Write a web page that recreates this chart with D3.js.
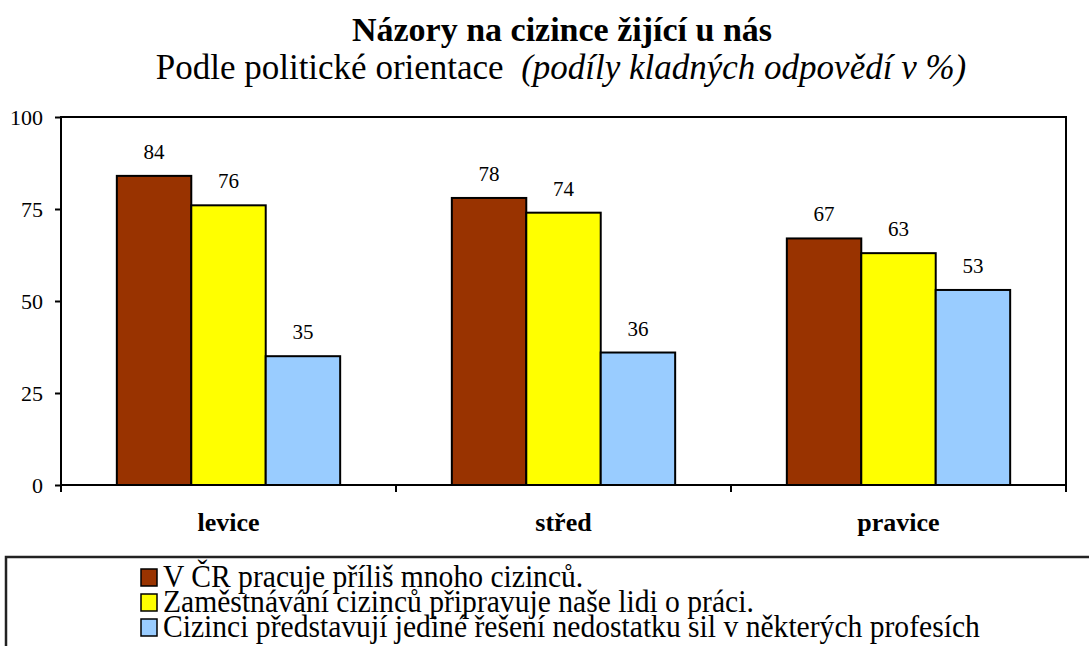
<!DOCTYPE html>
<html>
<head>
<meta charset="utf-8">
<script src="https://cdn.jsdelivr.net/npm/d3@7"></script>
<style>
body { margin: 0; background: #fff; }
text { font-family: "Liberation Serif", "Times New Roman", serif; }
</style>
</head>
<body>
<div id="canvas"></div>
<script>
var categories = ["levice", "střed", "pravice"];
var seriesNames = [
	"V ČR pracuje příliš mnoho cizinců.",
	"Zaměstnávání cizinců připravuje naše lidi o práci.",
	"Cizinci představují jediné řešení nedostatku sil v některých profesích"
];
var s1 = [84, 78, 67];
var s2 = [76, 74, 63];
var s3 = [35, 36, 53];
var yTicks = [0, 25, 50, 75, 100];
var colors = ["#993300", "#ffff00", "#99ccff"];

var width = 1089, height = 646;
var mleft = 61, mright = 1066, mtop = 117, mbottom = 485;

var svg = d3.select("#canvas").append("svg")
	.attr("width", width)
	.attr("height", height);

// titles
svg.append("text").attr("x", 562).attr("y", 41)
	.attr("text-anchor", "middle").attr("font-size", 34).attr("font-weight", "bold")
	.text("Názory na cizince žijící u nás");
var sub = svg.append("text").attr("x", 561).attr("y", 79)
	.attr("text-anchor", "middle").attr("font-size", 35)
	.style("white-space", "pre");
sub.append("tspan").text("Podle politické orientace  ");
sub.append("tspan").attr("font-style", "italic").text("(podíly kladných odpovědí v %)");

var x = d3.scaleBand().domain(categories).range([mleft, mright]);
var xs = d3.scaleBand().domain([0, 1, 2]).range([0, x.bandwidth()]).paddingOuter(0.75);
var y = d3.scaleLinear().domain([0, 100]).range([mbottom, mtop]);

// plot frame
svg.append("rect").attr("x", mleft).attr("y", mtop)
	.attr("width", mright - mleft).attr("height", mbottom - mtop)
	.attr("fill", "none").attr("stroke", "#000").attr("stroke-width", 2);

var series = [s1, s2, s3];
series.forEach(function(vals, si) {
	var g = svg.append("g");
	g.selectAll("rect").data(vals).enter().append("rect")
		.attr("x", function(d, i) { return x(categories[i]) + xs(si); })
		.attr("y", function(d) { return y(d); })
		.attr("width", xs.bandwidth())
		.attr("height", function(d) { return y(0) - y(d); })
		.attr("fill", colors[si])
		.attr("stroke", "#000").attr("stroke-width", 2);
	g.selectAll("text").data(vals).enter().append("text")
		.attr("x", function(d, i) { return x(categories[i]) + xs(si) + xs.bandwidth() / 2; })
		.attr("y", function(d) { return y(d) - 17; })
		.attr("text-anchor", "middle").attr("font-size", 21)
		.text(function(d) { return d; });
});

// y axis
var yAxis = svg.append("g").attr("transform", "translate(" + mleft + ",0)")
	.call(d3.axisLeft(y).tickValues(yTicks).tickSize(6).tickPadding(12));
yAxis.selectAll("text").attr("font-size", 22).attr("font-family", "Liberation Serif").attr("fill", "#000");
yAxis.selectAll("line, path").attr("stroke", "#000").attr("stroke-width", 2);
yAxis.select(".domain").attr("d", "M0," + mtop + "V" + mbottom);

// x axis
var xAxis = svg.append("g").attr("transform", "translate(0," + mbottom + ")");
xAxis.append("line").attr("x1", mleft).attr("x2", mright).attr("stroke", "#000").attr("stroke-width", 2);
var tickPos = categories.map(function(c) { return x(c); }).concat([mright]);
xAxis.selectAll(".tk").data(tickPos).enter().append("line")
	.attr("x1", function(d) { return d; }).attr("x2", function(d) { return d; })
	.attr("y1", 0).attr("y2", 7).attr("stroke", "#000").attr("stroke-width", 2);
xAxis.selectAll(".lbl").data(categories).enter().append("text")
	.attr("x", function(d) { return x(d) + x.bandwidth() / 2; })
	.attr("y", 46).attr("text-anchor", "middle")
	.attr("font-size", 26).attr("font-weight", "bold")
	.text(function(d) { return d; });

// legend
svg.append("rect").attr("x", 6).attr("y", 557).attr("width", 1100).attr("height", 120)
	.attr("fill", "#fff").attr("stroke", "#222").attr("stroke-width", 2.5);
var leg = svg.append("g").selectAll("g").data(seriesNames).enter().append("g")
	.attr("transform", function(d, i) { return "translate(141," + (569 + i * 25) + ")"; });
leg.append("rect").attr("width", 16).attr("height", 17)
	.attr("fill", function(d, i) { return colors[i]; })
	.attr("stroke", "#000").attr("stroke-width", 1.5);
leg.append("text").attr("transform", "translate(22,18) scale(0.955,1)")
	.attr("font-size", 31)
	.text(function(d) { return d; });
</script>
</body>
</html>
